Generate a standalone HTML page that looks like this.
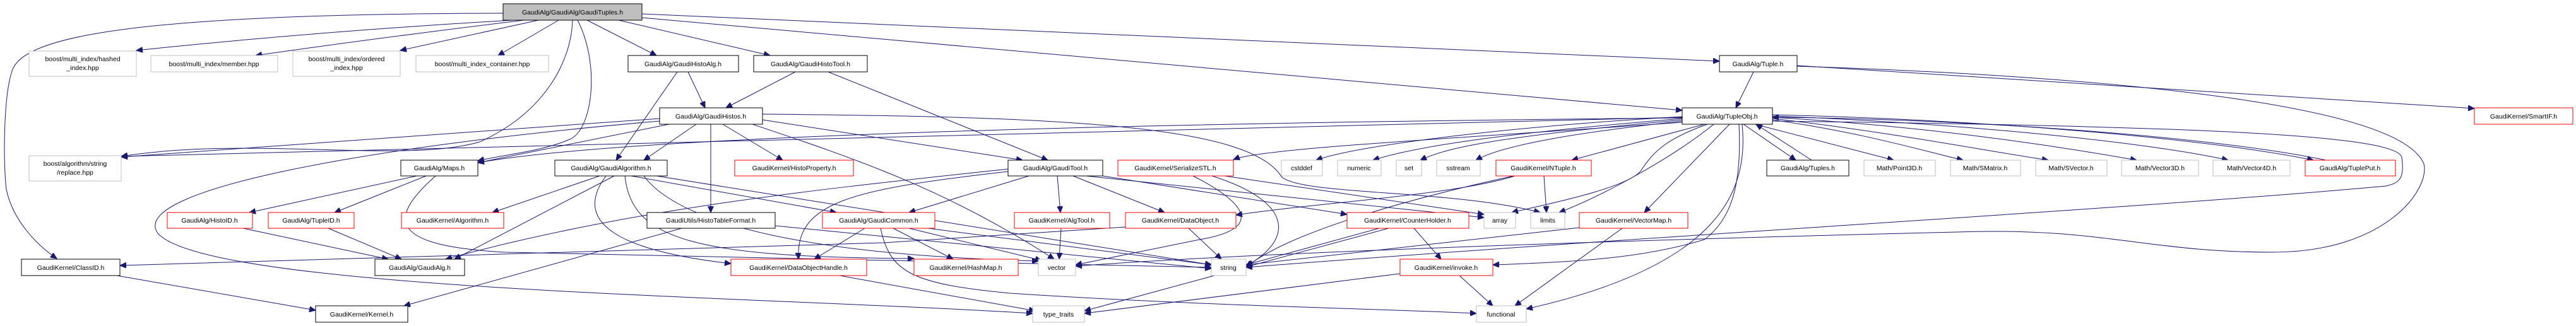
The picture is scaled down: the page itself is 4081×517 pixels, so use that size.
<!DOCTYPE html>
<html><head><meta charset="utf-8"><style>
html,body{margin:0;padding:0;background:#fff;}
svg{display:block}
text{font-family:"Liberation Sans",sans-serif;font-size:10.5px;fill:#000;text-anchor:middle}
.g{fill:#fff;stroke:#bfbfbf;stroke-width:1}
.b{fill:#fff;stroke:#000;stroke-width:1}
.r{fill:#fff;stroke:#ff0000;stroke-width:1}
.t{fill:#bfbfbf;stroke:#000;stroke-width:1}
path{fill:none;stroke:#191970;stroke-width:1;marker-end:url(#a)}
</style></head><body>
<svg width="4081" height="517" viewBox="0 0 4081 517" xmlns="http://www.w3.org/2000/svg">
<defs><marker id="a" markerUnits="userSpaceOnUse" markerWidth="11" markerHeight="9" refX="10" refY="4.5" orient="auto"><polygon points="0,0 10,4.5 0,9" fill="#191970" stroke="#191970"/></marker></defs>
<g>
<path d="M797 21 C200 22 40 60 20 110 C5 150 5 260 10 300 C20 350 60 390 90 410"/>
<path d="M812 32 Q500 50 216 80"/>
<path d="M830 32 Q600 60 405 88"/>
<path d="M853 32 L634 80"/>
<path d="M885 32 L789 88"/>
<path d="M907 32 C905 100 860 180 760 225 C640 260 400 215 192 248"/>
<path d="M915 32 C950 100 940 200 905 220 C860 240 800 245 757 255"/>
<path d="M930 32 L1040 88"/>
<path d="M980 32 L1220 88"/>
<path d="M1017 22 L2724 97"/>
<path d="M1017 28 L2665 175"/>
<path d="M1090 114 L1117 171"/>
<path d="M1073 114 L976 254"/>
<path d="M1260 114 L1150 171"/>
<path d="M1312 114 L1660 254"/>
<path d="M1045 188 L192 249"/>
<path d="M1060 197 L757 258"/>
<path d="M1103 197 L1020 254"/>
<path d="M1145 197 L1240 254"/>
<path d="M1126 197 L1126 337"/>
<path d="M1208 190 L1620 254"/>
<path d="M1192 197 C1350 250 1500 300 1670 411"/>
<path d="M1208 181 C1700 185 1980 200 2030 280 C2060 310 2300 300 2440 337"/>
<path d="M1045 192 C600 230 200 300 250 370 C330 460 1200 470 1636 497"/>
<path d="M950 279 L780 337"/>
<path d="M973 279 L720 411"/>
<path d="M1000 279 L1325 337"/>
<path d="M960 279 C900 360 1000 400 1158 418"/>
<path d="M990 279 C1000 380 1100 408 1448 410"/>
<path d="M1040 279 L1919 420"/>
<path d="M1020 279 C1080 360 1300 405 1645 414"/>
<path d="M660 279 L395 337"/>
<path d="M675 279 L530 337"/>
<path d="M690 279 C610 350 620 390 800 400 L1919 424"/>
<path d="M385 362 L615 411"/>
<path d="M520 362 L636 411"/>
<path d="M1783 360 L1400 385 L190 421"/>
<path d="M185 437 L500 492"/>
<path d="M1080 362 L640 485"/>
<path d="M1228 358 L1919 426"/>
<path d="M1630 279 L1440 337"/>
<path d="M1675 279 L1680 337"/>
<path d="M1700 279 L1845 337"/>
<path d="M1597 272 C1350 300 1260 320 1265 411"/>
<path d="M1597 268 C1300 300 1000 330 706 411"/>
<path d="M1720 279 L2351 345"/>
<path d="M1747 279 L2134 340"/>
<path d="M1681 362 L1678 411"/>
<path d="M1883 362 L1935 411"/>
<path d="M1370 362 L1290 411"/>
<path d="M1415 362 L1510 411"/>
<path d="M1440 362 L1650 413"/>
<path d="M1470 362 L1920 420"/>
<path d="M1395 362 C1410 430 1440 450 1600 465 C1900 485 2200 490 2339 497"/>
<path d="M1330 437 L1640 493"/>
<path d="M1890 279 C1990 330 1990 365 1900 380 L1704 420"/>
<path d="M1920 279 C2050 320 2050 380 1974 422"/>
<path d="M1940 279 L2351 340"/>
<path d="M2185 362 L1974 420"/>
<path d="M2200 362 L1718 493"/>
<path d="M2240 362 L2283 411"/>
<path d="M2218 434 L1718 497"/>
<path d="M2312 437 L2365 485"/>
<path d="M2446 279 L2450 337"/>
<path d="M2400 279 C2300 310 2100 320 1958 341"/>
<path d="M2398 279 C2300 300 2050 360 1974 424"/>
<path d="M2570 362 L2400 485"/>
<path d="M2502 361 L1974 420"/>
<path d="M2665 185 C2400 200 2150 230 2085 254"/>
<path d="M2665 188 C2400 210 2250 230 2175 254"/>
<path d="M2665 190 C2400 215 2300 230 2250 254"/>
<path d="M2665 192 C2500 210 2380 230 2338 254"/>
<path d="M2700 197 L2490 254"/>
<path d="M2705 197 C2640 220 2620 240 2600 270 C2580 300 2420 330 2395 337"/>
<path d="M2715 197 C2650 250 2540 310 2470 337"/>
<path d="M2740 197 L2605 337"/>
<path d="M2755 197 C2760 300 2740 350 2700 380 C2600 410 2500 415 2365 420"/>
<path d="M2760 197 C2770 300 2730 420 2418 490"/>
<path d="M2762 197 L2845 254"/>
<path d="M2870 254 L2782 197"/>
<path d="M2780 197 L3000 254"/>
<path d="M2808 190 C2950 210 3050 240 3110 254"/>
<path d="M2808 188 C3000 210 3150 240 3245 254"/>
<path d="M2808 186 C3050 200 3250 230 3385 254"/>
<path d="M2808 184 C3100 195 3400 225 3530 254"/>
<path d="M2808 182 C3150 190 3500 220 3665 254"/>
<path d="M3685 254 C3500 215 3100 188 2808 186"/>
<path d="M2665 187 C1800 195 1000 215 757 258"/>
<path d="M2665 186 L192 248"/>
<path d="M2665 194 C2300 220 2000 235 1954 253"/>
<path d="M2808 192 C3500 200 3800 215 3805 250 C3810 285 3800 290 3780 295 C3400 330 2600 375 1974 424"/>
<path d="M2847 105 C3300 120 3800 160 3840 260 C3850 300 3780 400 3600 400 C3400 400 3330 360 3100 368 C2600 380 2000 400 1704 422"/>
<path d="M2847 104 L3920 172"/>
<path d="M2778 114 L2750 171"/>
</g>
<g>
<rect class="t" x="797" y="6" width="220" height="26"/><text x="907" y="23">GaudiAlg/GaudiAlg/GaudiTuples.h</text>
<rect class="g" x="46" y="81" width="170" height="40"/><text x="131" y="97">boost/multi_index/hashed</text><text x="131" y="111">_index.hpp</text>
<rect class="g" x="239" y="88" width="201" height="26"/><text x="339" y="105">boost/multi_index/member.hpp</text>
<rect class="g" x="464" y="81" width="170" height="40"/><text x="549" y="97">boost/multi_index/ordered</text><text x="549" y="111">_index.hpp</text>
<rect class="g" x="659" y="88" width="210" height="26"/><text x="764" y="105">boost/multi_index_container.hpp</text>
<rect class="b" x="995" y="88" width="175" height="26"/><text x="1082" y="105">GaudiAlg/GaudiHistoAlg.h</text>
<rect class="b" x="1194" y="88" width="180" height="26"/><text x="1284" y="105">GaudiAlg/GaudiHistoTool.h</text>
<rect class="b" x="2724" y="88" width="123" height="26"/><text x="2785" y="105">GaudiAlg/Tuple.h</text>
<rect class="r" x="3920" y="171" width="156" height="26"/><text x="3998" y="188">GaudiKernel/SmartIF.h</text>
<rect class="b" x="1045" y="171" width="163" height="26"/><text x="1126" y="188">GaudiAlg/GaudiHistos.h</text>
<rect class="b" x="2665" y="171" width="143" height="26"/><text x="2736" y="188">GaudiAlg/TupleObj.h</text>
<rect class="g" x="46" y="247" width="146" height="40"/><text x="119" y="263">boost/algorithm/string</text><text x="119" y="277">/replace.hpp</text>
<rect class="b" x="635" y="254" width="122" height="25"/><text x="696" y="270">GaudiAlg/Maps.h</text>
<rect class="b" x="879" y="254" width="178" height="25"/><text x="968" y="270">GaudiAlg/GaudiAlgorithm.h</text>
<rect class="r" x="1164" y="254" width="188" height="25"/><text x="1258" y="270">GaudiKernel/HistoProperty.h</text>
<rect class="b" x="1597" y="254" width="150" height="25"/><text x="1672" y="270">GaudiAlg/GaudiTool.h</text>
<rect class="r" x="1771" y="254" width="183" height="25"/><text x="1862" y="270">GaudiKernel/SerializeSTL.h</text>
<rect class="g" x="2030" y="254" width="65" height="25"/><text x="2062" y="270">cstddef</text>
<rect class="g" x="2119" y="254" width="69" height="25"/><text x="2153" y="270">numeric</text>
<rect class="g" x="2212" y="254" width="40" height="25"/><text x="2232" y="270">set</text>
<rect class="g" x="2276" y="254" width="69" height="25"/><text x="2310" y="270">sstream</text>
<rect class="r" x="2370" y="254" width="151" height="25"/><text x="2445" y="270">GaudiKernel/NTuple.h</text>
<rect class="b" x="2799" y="254" width="130" height="25"/><text x="2864" y="270">GaudiAlg/Tuples.h</text>
<rect class="g" x="2953" y="254" width="113" height="25"/><text x="3009" y="270">Math/Point3D.h</text>
<rect class="g" x="3090" y="254" width="111" height="25"/><text x="3145" y="270">Math/SMatrix.h</text>
<rect class="g" x="3225" y="254" width="113" height="25"/><text x="3281" y="270">Math/SVector.h</text>
<rect class="g" x="3361" y="254" width="122" height="25"/><text x="3422" y="270">Math/Vector3D.h</text>
<rect class="g" x="3506" y="254" width="122" height="25"/><text x="3567" y="270">Math/Vector4D.h</text>
<rect class="r" x="3652" y="254" width="143" height="25"/><text x="3723" y="270">GaudiAlg/TuplePut.h</text>
<rect class="r" x="265" y="337" width="135" height="25"/><text x="332" y="353">GaudiAlg/HistoID.h</text>
<rect class="r" x="425" y="337" width="136" height="25"/><text x="493" y="353">GaudiAlg/TupleID.h</text>
<rect class="r" x="636" y="337" width="162" height="25"/><text x="717" y="353">GaudiKernel/Algorithm.h</text>
<rect class="b" x="1025" y="337" width="203" height="25"/><text x="1126" y="353">GaudiUtils/HistoTableFormat.h</text>
<rect class="r" x="1303" y="337" width="178" height="25"/><text x="1392" y="353">GaudiAlg/GaudiCommon.h</text>
<rect class="r" x="1607" y="337" width="151" height="25"/><text x="1682" y="353">GaudiKernel/AlgTool.h</text>
<rect class="r" x="1783" y="337" width="175" height="25"/><text x="1870" y="353">GaudiKernel/DataObject.h</text>
<rect class="r" x="2134" y="337" width="193" height="25"/><text x="2230" y="353">GaudiKernel/CounterHolder.h</text>
<rect class="g" x="2351" y="337" width="50" height="25"/><text x="2376" y="353">array</text>
<rect class="g" x="2425" y="337" width="54" height="25"/><text x="2452" y="353">limits</text>
<rect class="r" x="2502" y="337" width="172" height="25"/><text x="2588" y="353">GaudiKernel/VectorMap.h</text>
<rect class="b" x="34" y="411" width="156" height="26"/><text x="112" y="428">GaudiKernel/ClassID.h</text>
<rect class="b" x="594" y="411" width="142" height="26"/><text x="665" y="428">GaudiAlg/GaudiAlg.h</text>
<rect class="r" x="1158" y="411" width="215" height="26"/><text x="1265" y="428">GaudiKernel/DataObjectHandle.h</text>
<rect class="r" x="1448" y="411" width="165" height="26"/><text x="1530" y="428">GaudiKernel/HashMap.h</text>
<rect class="g" x="1645" y="411" width="59" height="26"/><text x="1674" y="428">vector</text>
<rect class="g" x="1919" y="411" width="55" height="26"/><text x="1946" y="428">string</text>
<rect class="r" x="2218" y="411" width="147" height="26"/><text x="2291" y="428">GaudiKernel/invoke.h</text>
<rect class="b" x="500" y="485" width="146" height="26"/><text x="573" y="502">GaudiKernel/Kernel.h</text>
<rect class="g" x="1636" y="485" width="82" height="26"/><text x="1677" y="502">type_traits</text>
<rect class="g" x="2339" y="485" width="79" height="26"/><text x="2378" y="502">functional</text>
</g>
</svg>
</body></html>
